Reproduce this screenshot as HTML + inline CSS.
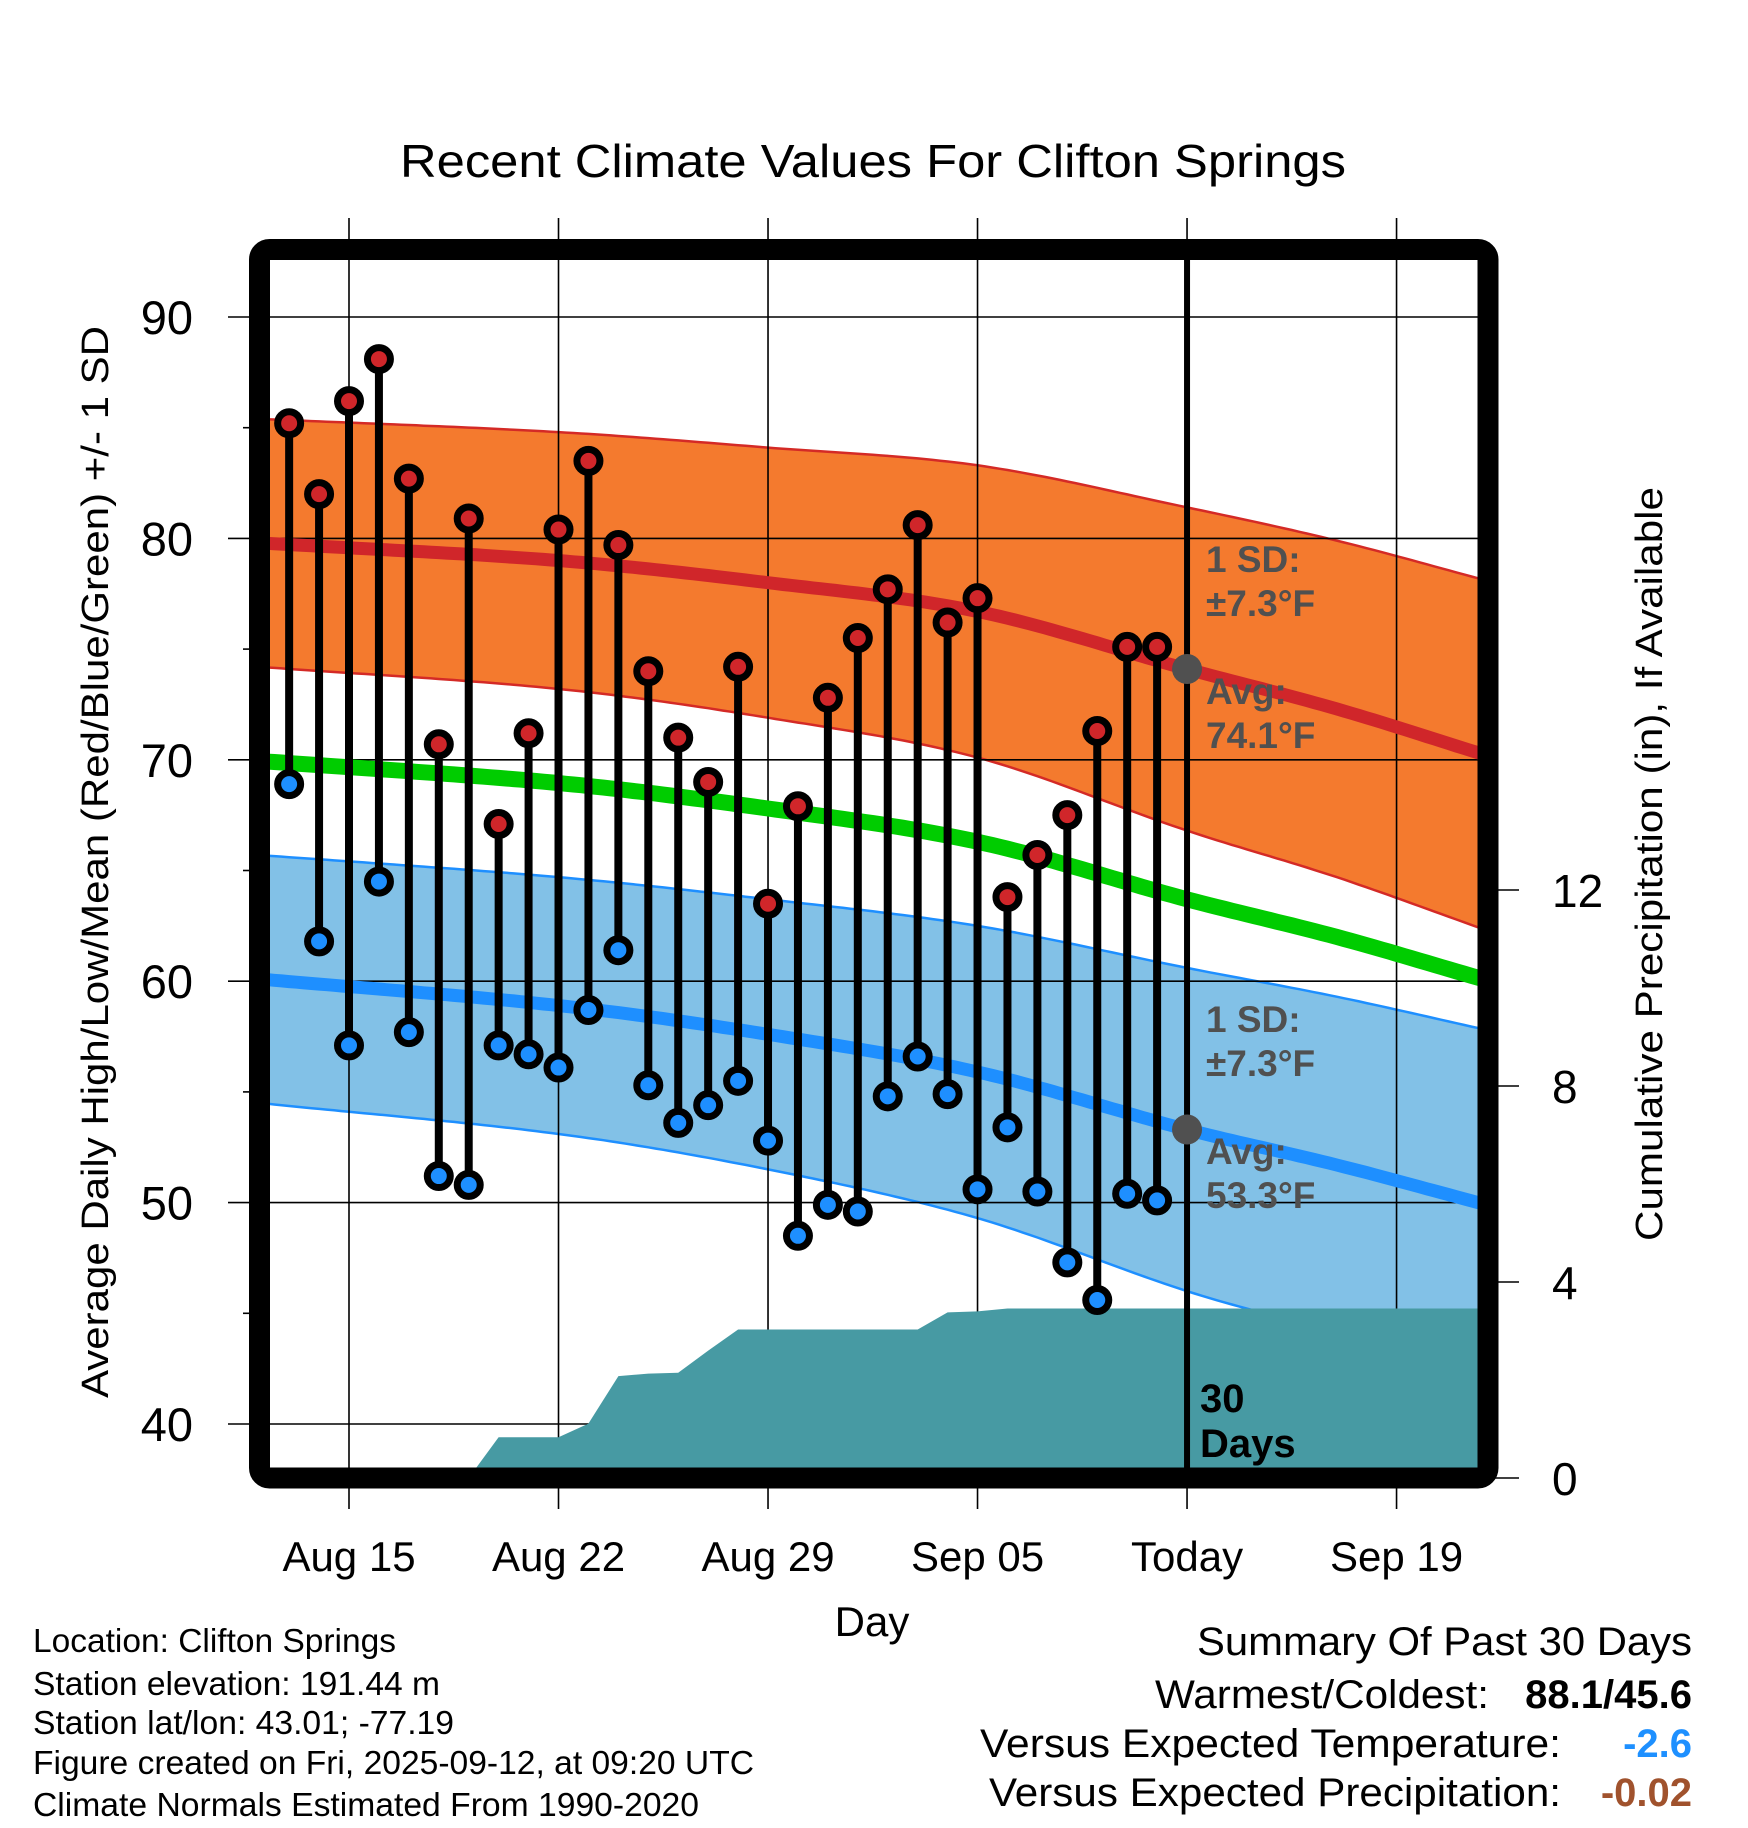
<!DOCTYPE html>
<html><head><meta charset="utf-8"><style>
html,body{margin:0;padding:0;background:#fff;}
svg{display:block;font-family:"Liberation Sans",Arial,sans-serif;}
</style></head><body>
<svg id="chart" width="1748" height="1828" viewBox="0 0 1748 1828">
<defs><clipPath id="plotclip"><rect x="270" y="260" width="1208" height="1208"/></clipPath></defs>
<g id="bands" clip-path="url(#plotclip)"></g>
<g id="grid"></g>
<g id="precip" clip-path="url(#plotclip)"></g>
<g id="means" clip-path="url(#plotclip)"></g>
<g id="marks"></g>
<g id="annot"></g>
<rect x="259.5" y="249.5" width="1228.5" height="1228.5" rx="10" fill="none" stroke="#000" stroke-width="21"/>
<text x="873" y="177" font-size="46" text-anchor="middle" textLength="946" lengthAdjust="spacingAndGlyphs">Recent Climate Values For Clifton Springs</text>
<text transform="translate(108,862) rotate(-90)" font-size="38" text-anchor="middle" textLength="1072" lengthAdjust="spacingAndGlyphs">Average Daily High/Low/Mean (Red/Blue/Green) +/- 1 SD</text>
<text transform="translate(1662,864) rotate(-90)" font-size="38" text-anchor="middle" textLength="754" lengthAdjust="spacingAndGlyphs">Cumulative Precipitation (in), If Available</text>
<text x="872" y="1636" font-size="42" text-anchor="middle">Day</text>
<g font-size="33">
<text x="33" y="1652" textLength="363" lengthAdjust="spacingAndGlyphs">Location: Clifton Springs</text>
<text x="33" y="1695" textLength="407" lengthAdjust="spacingAndGlyphs">Station elevation: 191.44 m</text>
<text x="33" y="1734" textLength="421" lengthAdjust="spacingAndGlyphs">Station lat/lon: 43.01; -77.19</text>
<text x="33" y="1774" textLength="721" lengthAdjust="spacingAndGlyphs">Figure created on Fri, 2025-09-12, at 09:20 UTC</text>
<text x="33" y="1816" textLength="666" lengthAdjust="spacingAndGlyphs">Climate Normals Estimated From 1990-2020</text>
</g>
<g font-size="40" text-anchor="end">
<text x="1692" y="1655" textLength="495" lengthAdjust="spacingAndGlyphs">Summary Of Past 30 Days</text>
<text x="1489" y="1708" textLength="334" lengthAdjust="spacingAndGlyphs">Warmest/Coldest:</text>
<text x="1692" y="1708" font-weight="bold">88.1/45.6</text>
<text x="1561" y="1757" textLength="581" lengthAdjust="spacingAndGlyphs">Versus Expected Temperature:</text>
<text x="1692" y="1757" font-weight="bold" fill="#1e90ff">-2.6</text>
<text x="1561" y="1806" textLength="572" lengthAdjust="spacingAndGlyphs">Versus Expected Precipitation:</text>
<text x="1692" y="1806" font-weight="bold" fill="#a0522d">-0.02</text>
</g>
</svg>
<script>
// ---- data ----
const days = [-2,-1,0,1,2,3,4,5,6,7,8,9,10,11,12,13,14,15,16,17,18,19,20,21,22,23,24,25,26,27];
const highs = [85.2,82.0,86.2,88.1,82.7,70.7,80.9,67.1,71.2,80.4,83.5,79.7,74.0,71.0,69.0,74.2,63.5,67.9,72.8,75.5,77.7,80.6,76.2,77.3,63.8,65.7,67.5,71.3,75.1,75.1];
const lows = [68.9,61.8,57.1,64.5,57.7,51.2,50.8,57.1,56.7,56.1,58.7,61.4,55.3,53.6,54.4,55.5,52.8,48.5,49.9,49.6,54.8,56.6,54.9,50.6,53.4,50.5,47.3,45.6,50.4,50.1];
const cumPrecip = [0,0,0,0,0,0,0,0.83,0.83,0.83,1.11,2.08,2.13,2.15,2.6,3.03,3.03,3.03,3.03,3.03,3.03,3.03,3.38,3.40,3.46,3.46,3.46,3.46,3.46,3.46];
const normDays = [-3,7,14,21,28,33,38];
const normHigh = [79.8,79.0,78.0,76.7,74.1,72.3,70.2];
const normLow = [60.1,58.9,57.6,55.9,53.3,51.7,49.9];
const normSD = [5.6,5.8,6.1,6.6,7.3,7.6,7.9];
const tempTicks = [40,50,60,70,80,90];
const tempMinor = [45,55,65,75,85];
const precipTicks = [0,4,8,12];
const dateTickDays = [0,7,14,21,28,35];
const dateTickLabels = ["Aug 15","Aug 22","Aug 29","Sep 05","Today","Sep 19"];
const todayDay = 28;

// ---- axes ----
const X = d => 349 + d*29.93;
const Y = t => 317 + (90-t)*22.14;
const P = p => 1478 - p*49;
const NS = "http://www.w3.org/2000/svg";
function mk(tag, attrs, parent){const e=document.createElementNS(NS,tag);for(const k in attrs)e.setAttribute(k,attrs[k]);parent.appendChild(e);return e;}
// smooth (Catmull-Rom style, non-uniform) interpolation through normal points
function interp(arr,d){
  const n=normDays.length;
  let i=0;
  while(i<n-2 && d>normDays[i+1]) i++;
  const x0=normDays[i],x1=normDays[i+1];
  const slope=k=>{
    if(k===0) return (arr[1]-arr[0])/(normDays[1]-normDays[0]);
    if(k===n-1) return (arr[n-1]-arr[n-2])/(normDays[n-1]-normDays[n-2]);
    return (arr[k+1]-arr[k-1])/(normDays[k+1]-normDays[k-1]);
  };
  const h=x1-x0,t=(d-x0)/h;
  const m0=slope(i)*h,m1=slope(i+1)*h;
  if(t<0) return arr[i]+slope(i)*(d-x0);
  if(t>1) return arr[i+1]+slope(i+1)*(d-x1);
  const t2=t*t,t3=t2*t;
  return (2*t3-3*t2+1)*arr[i]+(t3-2*t2+t)*m0+(-2*t3+3*t2)*arr[i+1]+(t3-t2)*m1;
}
const bands=document.getElementById('bands'),grid=document.getElementById('grid'),precip=document.getElementById('precip'),means=document.getElementById('means'),marks=document.getElementById('marks'),annot=document.getElementById('annot');
const samp=[];for(let d=-3;d<=38.01;d+=0.25)samp.push(d);
function line(f){return samp.map(d=>X(d).toFixed(1)+','+Y(f(d)).toFixed(1)).join(' ');}
function band(fu,fl){return samp.map(d=>X(d).toFixed(1)+','+Y(fu(d)).toFixed(1)).concat(samp.slice().reverse().map(d=>X(d).toFixed(1)+','+Y(fl(d)).toFixed(1))).join(' ');}
const hi=d=>interp(normHigh,d),lo=d=>interp(normLow,d),sd=d=>interp(normSD,d);

let e;
e=mk('polygon',{points:band(d=>hi(d)+sd(d),d=>hi(d)-sd(d)),fill:'#f47a2e'},bands);


e=mk('polygon',{points:band(d=>lo(d)+sd(d),d=>lo(d)-sd(d)),fill:'#82c1e7'},bands);


[[d=>hi(d)+sd(d),'#d42a26'],[d=>hi(d)-sd(d),'#d42a26'],[d=>lo(d)+sd(d),'#1e8fff'],[d=>lo(d)-sd(d),'#1e8fff']].forEach(([f,c])=>{
  e=mk('polyline',{points:line(f),fill:'none',stroke:c,'stroke-width':2.5},bands);
  
  
});

// grid
tempTicks.forEach(t=>{
  e=mk('line',{x1:228,x2:1478,y1:Y(t),y2:Y(t),stroke:'#000','stroke-width':1.6},grid);
  
  
  e=mk('text',{x:193,y:Y(t)+17,'font-size':47,'text-anchor':'end'},grid);e.textContent=t;
  
  
});
tempMinor.forEach(t=>{
  e=mk('line',{x1:243,x2:250,y1:Y(t),y2:Y(t),stroke:'#000','stroke-width':1.6},grid);
  
  
});
dateTickDays.forEach((d,i)=>{
  e=mk('line',{x1:X(d),x2:X(d),y1:218,y2:1509,stroke:'#000','stroke-width':1.6},grid);
  
  
  e=mk('text',{x:X(d),y:1571,'font-size':42,'text-anchor':'middle'},grid);e.textContent=dateTickLabels[i];
  
  
});
precipTicks.forEach(p=>{
  e=mk('line',{x1:1490,x2:1519,y1:P(p),y2:P(p),stroke:'#000','stroke-width':1.6},grid);
  
  
  e=mk('text',{x:1552,y:P(p)+17,'font-size':46},grid);e.textContent=p;
  
  
});

// precip area
let pts=[X(days[0])+','+P(0)];
days.forEach((d,i)=>pts.push(X(d).toFixed(1)+','+P(cumPrecip[i]).toFixed(1)));
pts.push('1480,'+P(cumPrecip[cumPrecip.length-1]).toFixed(1));
pts.push('1480,'+P(0));
e=mk('polygon',{points:pts.join(' '),fill:'#479aa3'},precip);



// mean lines
e=mk('polyline',{points:line(d=>(hi(d)+lo(d))/2),fill:'none',stroke:'#00cc00','stroke-width':16},means);


e=mk('polyline',{points:line(hi),fill:'none',stroke:'#d0262a','stroke-width':13},means);


e=mk('polyline',{points:line(lo),fill:'none',stroke:'#1e8fff','stroke-width':13},means);



// today line
e=mk('line',{x1:X(todayDay),x2:X(todayDay),y1:260,y2:1468,stroke:'#000','stroke-width':6},marks);



// stems and points
days.forEach((d,i)=>{
  e=mk('line',{x1:X(d),x2:X(d),y1:Y(highs[i]),y2:Y(lows[i]),stroke:'#000','stroke-width':8},marks);
  
  
});
days.forEach((d,i)=>{
  e=mk('circle',{cx:X(d),cy:Y(highs[i]),r:11.5,fill:'#d0262a',stroke:'#000','stroke-width':7},marks);
  
  
  e=mk('circle',{cx:X(d),cy:Y(lows[i]),r:11.5,fill:'#1e8fff',stroke:'#000','stroke-width':7},marks);
  
  
});

// today normal dots
e=mk('circle',{cx:X(todayDay),cy:Y(hi(todayDay)),r:15,fill:'#505050'},annot);


e=mk('circle',{cx:X(todayDay),cy:Y(lo(todayDay)),r:15,fill:'#505050'},annot);



// annotations
const ann=[["1 SD:",572,'high-sd-label'],["±7.3°F",616,'high-sd-value'],["Avg:",704,'high-avg-label'],["74.1°F",748,'high-avg-value'],
           ["1 SD:",1032,'low-sd-label'],["±7.3°F",1076,'low-sd-value'],["Avg:",1164,'low-avg-label'],["53.3°F",1208,'low-avg-value']];
ann.forEach(a=>{
  e=mk('text',{x:1206,y:a[1],'font-size':37,'font-weight':'bold',fill:'#505050'},annot);e.textContent=a[0];
  
  
});
e=mk('text',{x:1200,y:1412,'font-size':40,'font-weight':'bold',fill:'#000'},annot);e.textContent='30';


e=mk('text',{x:1200,y:1457,'font-size':40,'font-weight':'bold',fill:'#000'},annot);e.textContent='Days';


</script>
</body></html>
